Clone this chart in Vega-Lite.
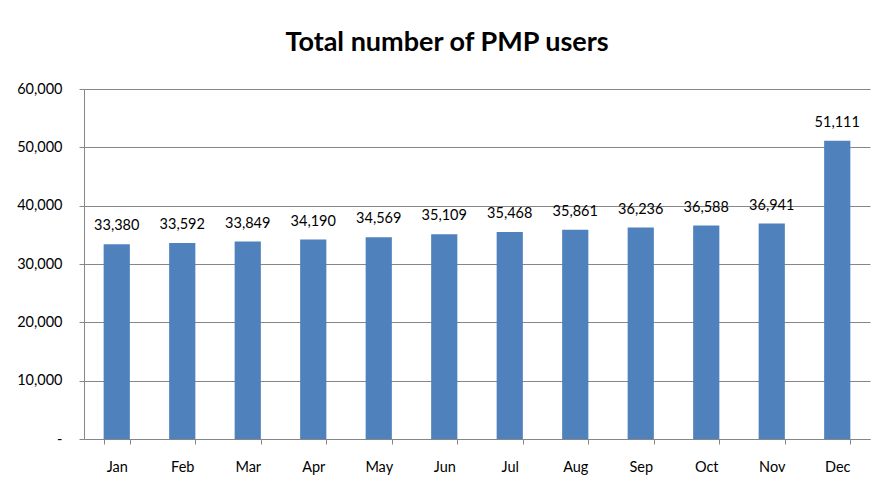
{
  "$schema": "https://vega.github.io/schema/vega-lite/v6.json",
  "autosize": "none",
  "width": 786,
  "height": 350,
  "padding": {"left": 84, "top": 89, "right": 6, "bottom": 43},
  "background": "white",
  "title": {
    "text": "Total number of PMP users",
    "font": "Lato",
    "fontSize": 27,
    "fontWeight": "bold",
    "color": "black",
    "anchor": "middle",
    "dx": -30,
    "offset": 24
  },
  "data": {
    "values": [
      {"month": "Jan", "users": 33380},
      {"month": "Feb", "users": 33592},
      {"month": "Mar", "users": 33849},
      {"month": "Apr", "users": 34190},
      {"month": "May", "users": 34569},
      {"month": "Jun", "users": 35109},
      {"month": "Jul", "users": 35468},
      {"month": "Aug", "users": 35861},
      {"month": "Sep", "users": 36236},
      {"month": "Oct", "users": 36588},
      {"month": "Nov", "users": 36941},
      {"month": "Dec", "users": 51111}
    ]
  },
  "encoding": {
    "x": {
      "field": "month",
      "type": "nominal",
      "sort": null,
      "scale": {"paddingInner": 0.6, "paddingOuter": 0.3},
      "axis": {
        "title": null,
        "labelAngle": 0,
        "labelFont": "Lato",
        "labelFontSize": 14.5,
        "labelColor": "black",
        "labelPadding": 16,
        "tickBand": "extent",
        "tickSize": 5,
        "tickColor": "#868686",
        "domainColor": "#868686"
      }
    },
    "y": {
      "field": "users",
      "type": "quantitative",
      "scale": {"domain": [0, 60000]},
      "axis": {
        "title": null,
        "values": [0, 10000, 20000, 30000, 40000, 50000, 60000],
        "labelExpr": "datum.value == 0 ? '-' : format(datum.value, ',')",
        "labelFont": "Lato",
        "labelFontSize": 14.5,
        "labelColor": "black",
        "labelPadding": 17,
        "tickSize": 5,
        "tickColor": "#868686",
        "domainColor": "#868686",
        "grid": true,
        "gridColor": "#868686",
        "gridWidth": 1
      }
    }
  },
  "layer": [
    {"mark": {"type": "bar", "color": "#4F81BD"}},
    {
      "mark": {
        "type": "text",
        "baseline": "bottom",
        "dy": -11,
        "font": "Lato",
        "fontSize": 14.5,
        "color": "black"
      },
      "encoding": {
        "text": {"field": "users", "type": "quantitative", "format": ","}
      }
    }
  ],
  "config": {"view": {"stroke": null}}
}
